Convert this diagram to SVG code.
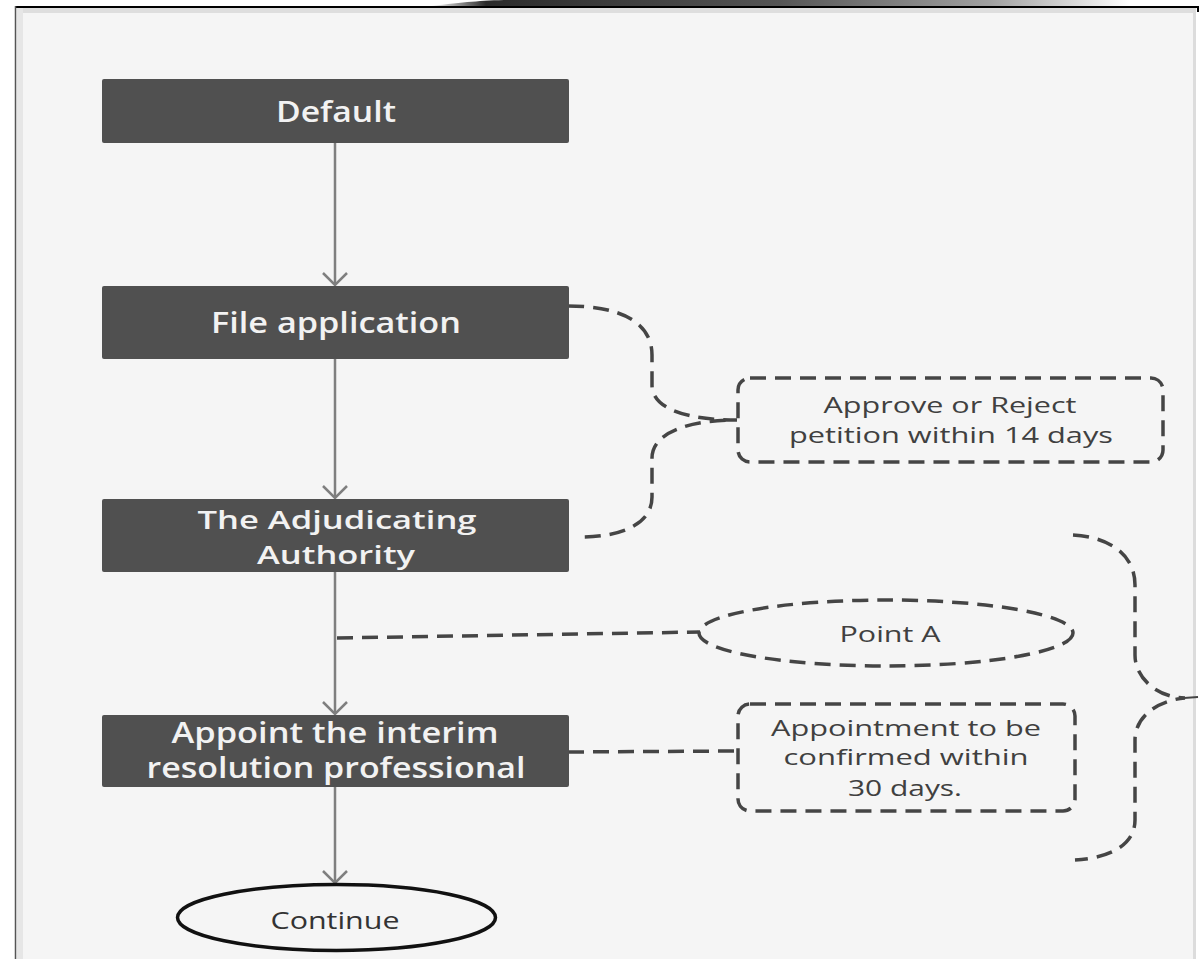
<svg xmlns="http://www.w3.org/2000/svg" width="1201" height="959" viewBox="0 0 1201 959">
<defs>
<style>
.node{fill:#505050;}
.nlabel{font-family:"Open Sans","Liberation Sans",sans-serif;font-weight:600;font-size:28px;fill:#f2f2f2;text-anchor:middle;}
.clabel{font-family:"Open Sans","Liberation Sans",sans-serif;font-size:21px;fill:#404040;text-anchor:middle;}
.flow{stroke:#7f7f7f;stroke-width:2.5;fill:none;}
.dash{stroke:#454545;stroke-width:3.5;fill:none;stroke-dasharray:16 9;}
</style>
<marker id="arr" markerWidth="30" markerHeight="30" refX="14" refY="15" orient="auto" markerUnits="userSpaceOnUse" viewBox="0 0 30 30">
<path d="M2 3 L14 15 L2 27" fill="none" stroke="#7f7f7f" stroke-width="2.5"/>
</marker>
<linearGradient id="shadow" x1="0" y1="0" x2="1" y2="0" gradientUnits="objectBoundingBox">
<stop offset="0" stop-color="#ffffff"/>
<stop offset="0.08" stop-color="#2a2a2a"/>
<stop offset="0.5" stop-color="#555555"/>
<stop offset="0.8" stop-color="#a0a0a0"/>
<stop offset="1" stop-color="#ffffff"/>
</linearGradient>
</defs>
<rect x="0" y="0" width="1201" height="959" fill="#ffffff"/>
<g id="frame">
<path d="M430 6 C470 2 480 0 520 0 L1130 0 L1130 6 Z" fill="url(#shadow)"/>
<rect x="15" y="6" width="1181" height="960" fill="#f5f5f5"/>
<rect x="17" y="8" width="1177" height="5" fill="#dedede"/>
<rect x="17" y="8" width="6" height="951" fill="#e6e6e6"/>
<rect x="1193" y="8" width="3" height="951" fill="#dcdcdc"/>
<line x1="15" y1="7" x2="1198" y2="7" stroke="#000" stroke-width="2"/>
<line x1="1198" y1="6" x2="1198" y2="12" stroke="#000" stroke-width="2"/>
<line x1="15.5" y1="6" x2="15.5" y2="959" stroke="#555" stroke-width="1.5"/>
</g>
<g id="connectors">
<line class="flow" x1="335" y1="143" x2="335" y2="285" marker-end="url(#arr)"/>
<line class="flow" x1="335" y1="359" x2="335" y2="498" marker-end="url(#arr)"/>
<line class="flow" x1="335" y1="572" x2="335" y2="714" marker-end="url(#arr)"/>
<line class="flow" x1="335" y1="787" x2="335" y2="883" marker-end="url(#arr)"/>
<path class="dash" d="M568 306 C620 306 652 322 652 355 L652 385 C652 410 690 420 737 420 C690 420 652 432 652 458 L652 497 C652 525 620 537 580 537"/>
<path class="dash" d="M337 638 L700 632"/>
<path class="dash" d="M568 752 L738 751"/>
<path class="dash" d="M1073 535 C1110 537 1135 555 1135 585 L1135 655 C1135 680 1160 698 1185 698 C1160 700 1135 715 1135 740 L1135 820 C1135 845 1110 858 1075 860"/>
<line x1="1184" y1="698" x2="1198" y2="697" stroke="#454545" stroke-width="2"/>
</g>
<g id="n-default">
<rect class="node" x="102" y="79" width="467" height="64" rx="2"/>
<text class="nlabel" x="336" y="122" textLength="120" lengthAdjust="spacingAndGlyphs">Default</text>
</g>
<g id="n-file">
<rect class="node" x="102" y="286" width="467" height="73" rx="2"/>
<text class="nlabel" x="336" y="333" textLength="250" lengthAdjust="spacingAndGlyphs">File application</text>
</g>
<g id="n-adjudicating">
<rect class="node" x="102" y="499" width="467" height="73" rx="2"/>
<text class="nlabel" x="337" y="529" style="font-size:26px" textLength="279" lengthAdjust="spacingAndGlyphs">The Adjudicating</text>
<text class="nlabel" x="336" y="564" style="font-size:26px" textLength="158" lengthAdjust="spacingAndGlyphs">Authority</text>
</g>
<g id="n-appoint">
<rect class="node" x="102" y="715" width="467" height="72" rx="2"/>
<text class="nlabel" x="335" y="743" textLength="327" lengthAdjust="spacingAndGlyphs">Appoint the interim</text>
<text class="nlabel" x="336" y="778" textLength="379" lengthAdjust="spacingAndGlyphs">resolution professional</text>
</g>
<g id="n-continue">
<ellipse cx="336.5" cy="917.5" rx="159" ry="33" fill="#f5f5f5" stroke="#111" stroke-width="3.5"/>
<text class="clabel" x="335" y="929" style="font-size:24px;fill:#333" textLength="129" lengthAdjust="spacingAndGlyphs">Continue</text>
</g>
<g id="n-approve">
<rect class="dash" x="738" y="378" width="425" height="84" rx="12"/>
<text class="clabel" x="950" y="413" textLength="253" lengthAdjust="spacingAndGlyphs">Approve or Reject</text>
<text class="clabel" x="951" y="443" textLength="324" lengthAdjust="spacingAndGlyphs">petition within 14 days</text>
</g>
<g id="n-pointa">
<ellipse class="dash" cx="886" cy="633" rx="187" ry="33"/>
<text class="clabel" x="890" y="642" textLength="101" lengthAdjust="spacingAndGlyphs">Point A</text>
</g>
<g id="n-appointment">
<rect class="dash" x="738" y="704" width="337" height="107" rx="12"/>
<text class="clabel" x="906" y="736" textLength="270" lengthAdjust="spacingAndGlyphs">Appointment to be</text>
<text class="clabel" x="906" y="765" textLength="245" lengthAdjust="spacingAndGlyphs">confirmed within</text>
<text class="clabel" x="905" y="796" textLength="114" lengthAdjust="spacingAndGlyphs">30 days.</text>
</g>
</svg>
